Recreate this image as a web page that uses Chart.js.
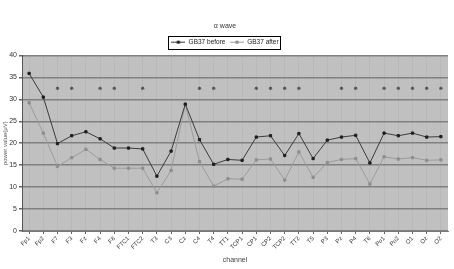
<!DOCTYPE html>
<html>
<head>
<meta charset="utf-8">
<script src="https://cdn.jsdelivr.net/npm/chart.js@4/dist/chart.umd.min.js"></script>
<style>
  body { margin: 0; background: #fff; }
  canvas { display: block; }
</style>
</head>
<body>
<canvas id="grafico" width="454" height="269"></canvas>
<script>
// dados
const channels = ['Fp1', 'Fp2', 'F7', 'F3', 'Fz', 'F4', 'F8', 'FTC1', 'FTC2', 'T3',
                  'C3', 'Cz', 'C4', 'T4', 'TT1', 'TCP1', 'CP1', 'CP2', 'TCP2', 'TT2',
                  'T5', 'P3', 'Pz', 'P4', 'T6', 'Po1', 'Po2', 'O1', 'Oz', 'O2'];
const before = [35.9, 30.5, 19.9, 21.7, 22.6, 21.0, 18.9, 18.9, 18.7, 12.5,
                18.2, 28.9, 20.8, 15.2, 16.3, 16.1, 21.4, 21.7, 17.2, 22.2,
                16.5, 20.7, 21.4, 21.8, 15.5, 22.3, 21.7, 22.3, 21.4, 21.5];
const after = [29.2, 22.3, 14.7, 16.7, 18.6, 16.3, 14.3, 14.3, 14.3, 8.7,
               13.8, 28.8, 15.8, 10.2, 11.9, 11.8, 16.2, 16.4, 11.6, 18.0,
               12.2, 15.6, 16.3, 16.5, 10.7, 16.9, 16.4, 16.7, 16.1, 16.2];
const marked = ['F7', 'F3', 'F4', 'F8', 'FTC2', 'C4', 'T4', 'CP1', 'CP2', 'TCP2', 'TT2',
                'Pz', 'P4', 'Po1', 'Po2', 'O1', 'Oz', 'O2'];
const markLevel = 32.5;
const yTicks = [0, 5, 10, 15, 20, 25, 30, 35, 40];

const marks = channels.map(c => marked.includes(c) ? markLevel : null);

// icone da legenda: linha com marcador
function iconeLegenda(cor, corPonto) {
    const c = document.createElement('canvas');
    c.width = 14; c.height = 7;
    const g = c.getContext('2d');
    g.strokeStyle = cor;
    g.lineWidth = 1;
    g.beginPath(); g.moveTo(0, 3.5); g.lineTo(14, 3.5); g.stroke();
    g.fillStyle = corPonto;
    g.fillRect(5.5, 2, 3, 3);
    return c;
}

const fundoPlot = {
    id: 'fundoPlot',
    beforeDraw(chart) {
        const a = chart.chartArea, ctx = chart.ctx;
        ctx.save();
        ctx.fillStyle = '#c0c0c0';
        ctx.fillRect(a.left, a.top, a.right - a.left, a.bottom - a.top);
        ctx.restore();
    },
    afterDraw(chart) {
        const l = chart.legend, ctx = chart.ctx;
        if (!l || !l.legendHitBoxes.length) return;
        const boxes = l.legendHitBoxes;
        const last = boxes[boxes.length - 1];
        const x0 = boxes[0].left - 3, x1 = last.left + last.width + 2;
        const y0 = boxes[0].top - 3, y1 = boxes[0].top + boxes[0].height + 3;
        ctx.save();
        ctx.strokeStyle = '#000';
        ctx.lineWidth = 1;
        ctx.strokeRect(Math.round(x0) + 0.5, Math.round(y0) + 0.5, Math.round(x1 - x0), Math.round(y1 - y0));
        ctx.restore();
    }
};

const ctx = document.getElementById('grafico').getContext('2d');
new Chart(ctx, {
    type: 'line',
    data: {
        labels: channels,
        datasets: [{
            label: 'GB37 before',
            data: before,
            borderColor: '#3c3c3c',
            borderWidth: 1,
            pointStyle: 'rect',
            pointRadius: 1.6,
            pointBackgroundColor: '#1e1e1e',
            pointBorderColor: '#1e1e1e',
            tension: 0
        }, {
            label: 'GB37 after',
            data: after,
            borderColor: '#9c9c9c',
            borderWidth: 1,
            pointStyle: 'rect',
            pointRadius: 1.6,
            pointBackgroundColor: '#8e8e8e',
            pointBorderColor: '#8e8e8e',
            tension: 0
        }, {
            label: 'mark',
            data: marks,
            showLine: false,
            pointStyle: 'star',
            pointRadius: 1.7,
            borderColor: '#505050',
            pointBorderWidth: 1
        }]
    },
    options: {
        responsive: false,
        animation: false,
        layout: { padding: { left: 2, right: 6, top: 0, bottom: 3 } },
        plugins: {
            title: {
                display: true,
                text: 'α wave',
                color: '#333',
                font: { family: 'Liberation Sans', size: 7, weight: 'normal' },
                padding: { top: 22, bottom: 4 }
            },
            legend: {
                position: 'top',
                labels: {
                    color: '#222',
                    font: { family: 'Liberation Sans', size: 6.5 },
                    usePointStyle: true,
                    pointStyleWidth: 14,
                    boxWidth: 14,
                    boxHeight: 7,
                    padding: 4.5,
                    filter: (item) => item.datasetIndex < 2,
                    generateLabels(chart) {
                        const items = Chart.defaults.plugins.legend.labels.generateLabels(chart);
                        items.forEach(it => {
                            it.pointStyle = it.datasetIndex === 0
                                ? iconeLegenda('#3c3c3c', '#1e1e1e')
                                : iconeLegenda('#9c9c9c', '#8e8e8e');
                        });
                        return items;
                    }
                }
            },
            tooltip: { enabled: false }
        },
        scales: {
            x: {
                offset: true,
                grid: {
                    color: 'rgba(170,170,170,0.35)',
                    drawOnChartArea: true,
                    tickLength: 3,
                    tickColor: '#666'
                },
                border: { color: '#777', width: 1 },
                ticks: {
                    color: '#333',
                    font: { family: 'Liberation Sans', size: 6 },
                    minRotation: 45,
                    maxRotation: 45,
                    autoSkip: false,
                    padding: 1
                },
                title: {
                    display: true,
                    text: 'channel',
                    color: '#444',
                    font: { family: 'Liberation Sans', size: 7 },
                    padding: { top: 0, bottom: 2 }
                },
                afterFit(scale) { scale.height = 35; }
            },
            y: {
                min: 0,
                max: 40,
                afterBuildTicks(scale) { scale.ticks = yTicks.map(v => ({ value: v })); },
                grid: {
                    color: '#808080',
                    lineWidth: 1.5,
                    tickLength: 3,
                    tickColor: '#666'
                },
                border: { color: '#555', width: 1 },
                ticks: {
                    color: '#333',
                    font: { family: 'Liberation Sans', size: 7 },
                    padding: 2
                },
                title: {
                    display: true,
                    text: 'power value(μV)',
                    color: '#555',
                    font: { family: 'Liberation Sans', size: 6 },
                    padding: 0
                },
                afterFit(scale) { scale.width = 20; }
            }
        }
    },
    plugins: [fundoPlot]
});
</script>
</body>
</html>
